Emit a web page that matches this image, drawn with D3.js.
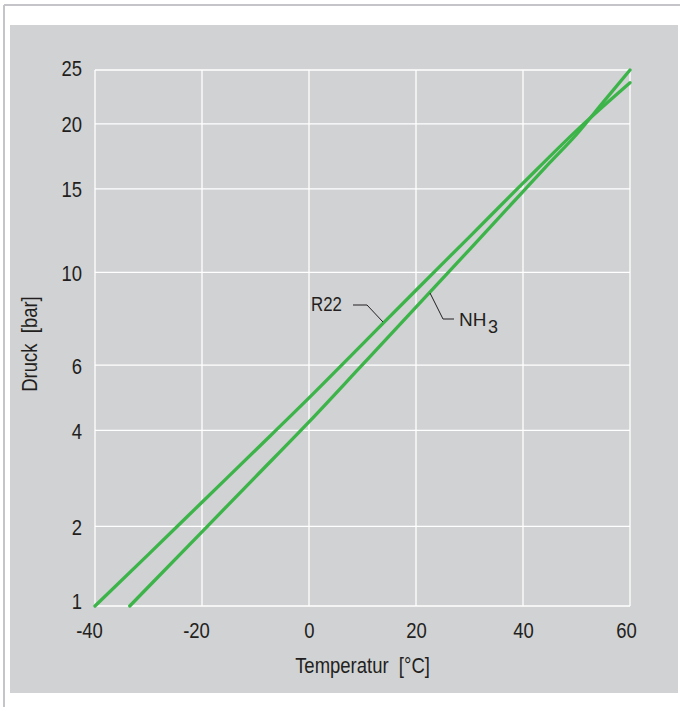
<!DOCTYPE html>
<html>
<head>
<meta charset="utf-8">
<script src="https://cdn.jsdelivr.net/npm/d3@7"></script>
<style>
  html, body { margin: 0; padding: 0; background: #ffffff; }
  svg { display: block; }
  text { font-family: "Liberation Sans", Arial, sans-serif; fill: #231f20; }
</style>
</head>
<body>
<script>
// ---- data ----
const r22Temp = [-40, -30, -20, -10, 0, 10, 20, 30, 40, 50, 60];
const r22Pressure = [1.0, 1.59, 2.41, 3.50, 4.92, 6.78, 9.11, 11.95, 15.4, 19.44, 23.75];
const nh3Temp = [-33.5, -30, -20, -10, 0, 10, 20, 30, 40, 45, 50, 55, 60];
const nh3Pressure = [1.0, 1.197, 1.915, 2.905, 4.226, 6.02, 8.32, 11.22, 14.82, 16.89, 19.12, 21.93, 25.0];
const xTicks = [-40, -20, 0, 20, 40, 60];
const yTicks = [1, 2, 4, 6, 10, 15, 20, 25];
const xTitle = "Temperatur\u00A0 [°C]";
const yTitle = "Druck\u00A0 [bar]";
const seriesNames = ["R22", "NH", "3"];

const W = 680, H = 707;
const FONT = '"Liberation Sans", Arial, sans-serif';
const SQUEEZE = 0.84; // narrow (condensed) look of the original typeface

function condense(sel) {
  sel.each(function () {
    const len = this.getComputedTextLength();
    d3.select(this).attr("textLength", len * SQUEEZE).attr("lengthAdjust", "spacingAndGlyphs");
  });
}

const svg = d3.select("body").append("svg").attr("width", W).attr("height", H);

// outer frame
svg.append("line").attr("x1", 4).attr("x2", W).attr("y1", 5).attr("y2", 5)
  .attr("stroke", "#c4c4c9").attr("stroke-width", 2);
svg.append("line").attr("x1", 4).attr("x2", 4).attr("y1", 5).attr("y2", H)
  .attr("stroke", "#c4c4c9").attr("stroke-width", 2);

// grey panel
svg.append("rect").attr("x", 10).attr("y", 25).attr("width", 668).attr("height", 668)
  .attr("fill", "#d1d2d4");

const x = d3.scaleLinear().domain([-40, 60]).range([95, 630]);
const y = d3.scalePow().exponent(0.27).domain([1, 25]).range([606, 70]);

// grid
const grid = svg.append("g").attr("stroke", "#ffffff").attr("stroke-width", 1.3);
grid.selectAll("line.h").data(yTicks).join("line").attr("class", "h")
  .attr("x1", x(-40)).attr("x2", x(60)).attr("y1", d => y(d)).attr("y2", d => y(d));
grid.selectAll("line.v").data(xTicks).join("line").attr("class", "v")
  .attr("y1", y(1)).attr("y2", y(25)).attr("x1", d => x(d)).attr("x2", d => x(d));

// axes (labels only)
const xAxis = svg.append("g").attr("transform", `translate(0,${y(1)})`)
  .call(d3.axisBottom(x).tickValues(xTicks).tickSize(0).tickPadding(16).tickFormat(d => String(d)));
xAxis.select(".domain").remove();
xAxis.selectAll("text").attr("font-size", 22).attr("fill", "#231f20")
  .style("font-family", FONT)
  .attr("dx", d => d < 0 ? -6 : (d === 60 ? -4 : 0))
  .call(condense);

const yAxis = svg.append("g").attr("transform", `translate(${x(-40)},0)`)
  .call(d3.axisLeft(y).tickValues(yTicks).tickSize(0).tickPadding(13).tickFormat(d => String(d)));
yAxis.select(".domain").remove();
yAxis.selectAll("text").attr("font-size", 22).attr("fill", "#231f20")
  .style("font-family", FONT)
  .attr("dy", d => d === 1 ? "0.1em" : (d === 25 ? "0.27em" : "0.36em"))
  .call(condense);

// axis titles
svg.append("text").attr("x", (x(-40) + x(60)) / 2).attr("y", 673).attr("text-anchor", "middle")
  .attr("font-size", 22).text(xTitle).call(condense);
svg.append("text").attr("transform", "translate(37,344) rotate(-90)").attr("text-anchor", "middle")
  .attr("font-size", 22).text(yTitle).call(condense);

// curves
const line = d3.line().x(d => x(d[0])).y(d => y(d[1])).curve(d3.curveMonotoneX);
const series = [
  d3.zip(r22Temp, r22Pressure),
  d3.zip(nh3Temp, nh3Pressure)
];
svg.append("g").selectAll("path").data(series).join("path")
  .attr("d", line).attr("fill", "none").attr("stroke", "#3db449")
  .attr("stroke-width", 3.3).attr("stroke-linecap", "round").attr("stroke-linejoin", "round");

// annotations
const lead = svg.append("g").attr("fill", "none").attr("stroke", "#231f20").attr("stroke-width", 1);
lead.append("path").attr("d", d3.line()([[353, 305], [367, 305], [383, 322]]));
lead.append("path").attr("d", d3.line()([[430, 293], [443, 319], [454, 319]]));

svg.append("text").attr("x", 311).attr("y", 311).attr("font-size", 20).text(seriesNames[0]).call(condense);
const nh = svg.append("text").attr("x", 459).attr("y", 326).attr("font-size", 19).text(seriesNames[1]);
const nhEnd = 459 + nh.node().getComputedTextLength();
svg.append("text").attr("x", nhEnd + 1.5).attr("y", 333).attr("font-size", 18).text(seriesNames[2]);
</script>
</body>
</html>
